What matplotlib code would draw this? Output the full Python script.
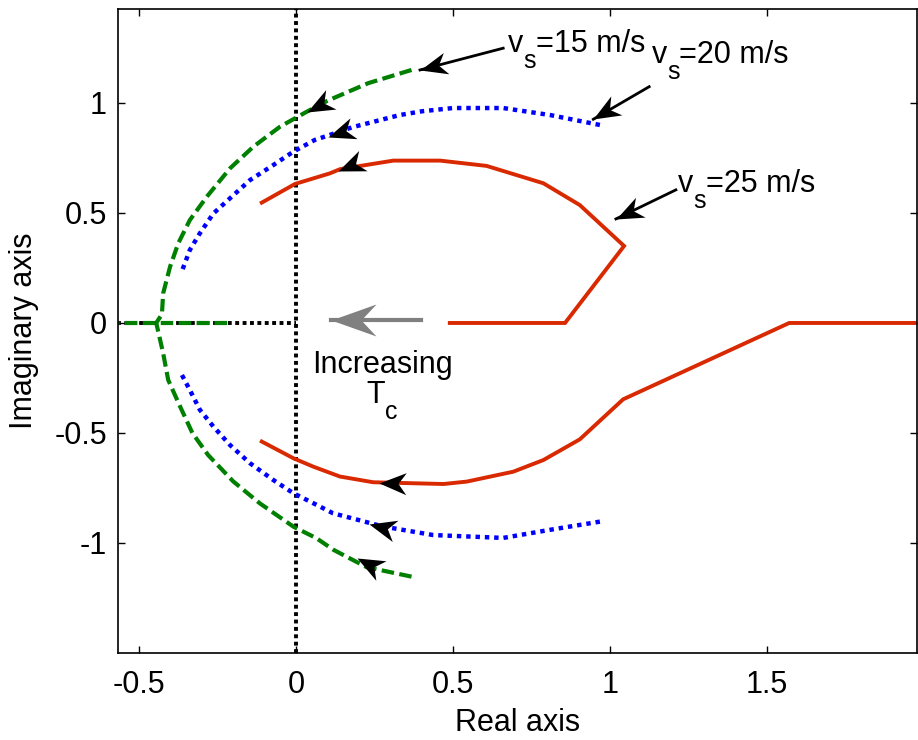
import numpy as np
import matplotlib
matplotlib.use('Agg')
import matplotlib.pyplot as plt
from matplotlib.path import Path
from matplotlib.markers import MarkerStyle
from matplotlib.transforms import Affine2D

plt.rcParams['font.family'] = ['Liberation Sans', 'DejaVu Sans']
plt.rcParams['axes.unicode_minus'] = False

# root loci, each ordered in the direction of increasing Tc
# vs = 15 m/s (green dashed)
g15_up_x = [0.368, 0.23, 0.10, 0.034, -0.051, -0.136, -0.21, -0.284, -0.338, -0.375, -0.401, -0.423, -0.427, -0.445]
g15_up_y = [1.15, 1.09, 1.01, 0.96, 0.892, 0.801, 0.703, 0.574, 0.468, 0.362, 0.256, 0.135, 0.04, 0.0]
g15_lo_x = [0.368, 0.225, 0.118, 0.066, -0.008, -0.115, -0.2, -0.28, -0.33, -0.369, -0.407, -0.423, -0.445]
g15_lo_y = [-1.153, -1.11, -1.03, -0.979, -0.926, -0.82, -0.72, -0.60, -0.50, -0.38, -0.259, -0.138, 0.0]
g15_re_x = [-0.22, -0.57]
g15_re_y = [0.0, 0.0]

# vs = 20 m/s (blue dotted)
b20_up_x = [0.968, 0.81, 0.66, 0.5, 0.40, 0.33, 0.18, 0.098, 0.06, -0.008, -0.072, -0.146, -0.21, -0.263, -0.306, -0.338, -0.364]
b20_up_y = [0.90, 0.945, 0.977, 0.977, 0.962, 0.945, 0.89, 0.85, 0.832, 0.779, 0.718, 0.65, 0.567, 0.498, 0.408, 0.332, 0.233]
b20_lo_x = [0.968, 0.81, 0.66, 0.437, 0.277, 0.118, 0.066, -0.008, -0.072, -0.146, -0.21, -0.263, -0.306, -0.338, -0.369]
b20_lo_y = [-0.903, -0.94, -0.977, -0.964, -0.925, -0.865, -0.827, -0.774, -0.714, -0.638, -0.555, -0.471, -0.395, -0.305, -0.221]

# vs = 25 m/s (red solid)
r25_up_x = [0.49, 0.857, 1.045, 0.904, 0.788, 0.607, 0.459, 0.31, 0.14, 0.108, -0.003, -0.109]
r25_up_y = [0.0, 0.0, 0.35, 0.536, 0.635, 0.714, 0.738, 0.738, 0.699, 0.68, 0.632, 0.547]
r25_lo_x = [2.0, 1.571, 1.042, 0.904, 0.788, 0.692, 0.544, 0.47, 0.246, 0.14, 0.055, -0.008, -0.109]
r25_lo_y = [0.0, 0.0, -0.347, -0.529, -0.623, -0.676, -0.721, -0.732, -0.724, -0.698, -0.653, -0.615, -0.539]

# where the direction arrowheads sit on the loci
arrow_tips = [(0.034, 0.96), (0.103, 0.847), (0.135, 0.69),
              (0.265, -0.726), (0.234, -0.914), (0.193, -1.07)]

label_sub = ['15', '20', '25']
label_pos = [(0.675, 1.233), (1.133, 1.18), (1.218, 0.597)]
label_tail = [(0.66, 1.249), (1.125, 1.074), (1.21, 0.605)]
label_tip = [(0.395, 1.15), (0.947, 0.926), (1.019, 0.473)]

xticks = [-0.5, 0, 0.5, 1, 1.5]
xticklabels = ['-0.5', '0', '0.5', '1', '1.5']
yticks = [-1, -0.5, 0, 0.5, 1]
yticklabels = ['-1', '-0.5', '0', '0.5', '1']

RED = '#d92900'
GREEN = '#008000'
BLUE = '#0000ff'
FS = 22
FS_SUB = 18
SUB_DROP = -11.5  # points

fig = plt.figure(figsize=(9.18, 7.4), dpi=100)
ax = fig.add_axes([0.1285, 0.1176, 0.8704, 0.8696])
ax.set_xlim(-0.567, 1.978)
ax.set_ylim(-1.5, 1.425)

# reference lines
ax.axvline(0, color='k', lw=2.8, linestyle=(0, (1, 0.9)), zorder=1)
ax.plot([-0.57, 0], [0, 0], color='k', lw=2.8, linestyle=(0, (1, 0.9)), zorder=1)

dash = (0, (3.0, 1.3))
dot = (0, (1, 1.1))
ax.plot(g15_up_x, g15_up_y, color=GREEN, lw=3.0, linestyle=dash, zorder=2)
ax.plot(g15_lo_x, g15_lo_y, color=GREEN, lw=3.0, linestyle=dash, zorder=2)
ax.plot(g15_re_x, g15_re_y, color=GREEN, lw=3.0, linestyle=dash, zorder=2)
ax.plot(b20_up_x, b20_up_y, color=BLUE, lw=3.2, linestyle=dot, zorder=2)
ax.plot(b20_lo_x, b20_lo_y, color=BLUE, lw=3.2, linestyle=dot, zorder=2)
ax.plot(r25_up_x, r25_up_y, color=RED, lw=2.8, zorder=2, solid_joinstyle='miter')
ax.plot(r25_lo_x, r25_lo_y, color=RED, lw=2.8, zorder=2, solid_joinstyle='miter')

# notched arrowhead (tip at origin, pointing +x), units in pixels
head_small = Path([(0, 0), (-27, 11), (-19, 0), (-27, -11), (0, 0)],
                  [Path.MOVETO, Path.LINETO, Path.LINETO, Path.LINETO, Path.CLOSEPOLY])
head_big = Path([(0, 0), (-45, 16), (-30, 0), (-45, -16), (0, 0)],
                [Path.MOVETO, Path.LINETO, Path.LINETO, Path.LINETO, Path.CLOSEPOLY])


def draw_head(x, y, ang, path, size, color='k'):
    m = MarkerStyle(path, transform=Affine2D().rotate_deg(ang))
    ax.plot([x], [y], marker=m, markersize=size, color=color,
            markeredgewidth=0, linestyle='none', zorder=5)


def curve_angle(xs, ys, x, y):
    pts = ax.transData.transform(np.column_stack([xs, ys]))
    p = ax.transData.transform((x, y))
    best, bi = 1e9, 0
    for i in range(len(pts) - 1):
        a, b = pts[i], pts[i + 1]
        ab = b - a
        t = np.clip(np.dot(p - a, ab) / np.dot(ab, ab), 0, 1)
        d = np.hypot(*(a + t * ab - p))
        if d < best:
            best, bi = d, i
    d = pts[bi + 1] - pts[bi]
    return np.degrees(np.arctan2(d[1], d[0]))


curves = [(g15_up_x, g15_up_y), (b20_up_x, b20_up_y), (r25_up_x, r25_up_y),
          (r25_lo_x, r25_lo_y), (b20_lo_x, b20_lo_y), (g15_lo_x, g15_lo_y)]
for (cx, cy), (tx, ty) in zip(curves, arrow_tips):
    draw_head(tx, ty, curve_angle(cx, cy, tx, ty), head_small, 38.9)

renderer = fig.canvas.get_renderer()
PX2PT = 72.0 / fig.dpi


def text_width(s, size):
    t = ax.text(0, 0, s, fontsize=size)
    w = t.get_window_extent(renderer).width * PX2PT
    t.remove()
    return w


def sub_label(x, y, main, sub, rest='', center=False):
    w_main = text_width(main, FS)
    w_sub = text_width(sub, FS_SUB)
    w_rest = text_width(rest, FS) if rest else 0
    x0 = -(w_main + w_sub + w_rest) / 2 if center else 0
    kw = dict(xy=(x, y), xycoords='data', textcoords='offset points',
              ha='left', va='baseline', zorder=6)
    ax.annotate(main, xytext=(x0, 0), fontsize=FS, **kw)
    ax.annotate(sub, xytext=(x0 + w_main, SUB_DROP), fontsize=FS_SUB, **kw)
    if rest:
        ax.annotate(rest, xytext=(x0 + w_main + w_sub, 0), fontsize=FS, **kw)


# labelled arrows
for num, pos, tail, tip in zip(label_sub, label_pos, label_tail, label_tip):
    ax.plot([tail[0], tip[0]], [tail[1], tip[1]], color='k', lw=2.0, zorder=4)
    a = ax.transData.transform(tail)
    b = ax.transData.transform(tip)
    ang = np.degrees(np.arctan2(b[1] - a[1], b[0] - a[0]))
    draw_head(tip[0], tip[1], ang, head_small, 38.9)
    sub_label(pos[0], pos[1], 'v', 's', '=' + num + ' m/s')

# increasing Tc arrow
gray_tail = (0.398, 0.012)
gray_tip = (0.11, 0.012)
ax.plot([gray_tail[0], gray_tip[0]], [gray_tail[1], gray_tip[1]], color='#808080', lw=3.0, zorder=4)
draw_head(gray_tip[0], gray_tip[1], 180, head_big, 64.8, color='#808080')
ax.text(0.275, -0.227, 'Increasing', fontsize=FS, ha='center', va='baseline')
sub_label(0.275, -0.364, 'T', 'c', center=True)

ax.set_xticks(xticks)
ax.set_xticklabels(xticklabels)
ax.set_yticks(yticks)
ax.set_yticklabels(yticklabels)
ax.tick_params(direction='in', length=5, width=1, top=True, right=True, labelsize=FS)
ax.tick_params(axis='x', pad=12)
ax.tick_params(axis='y', pad=8)
for s in ax.spines.values():
    s.set_linewidth(1.2)
ax.set_xlabel('Real axis', fontsize=FS, labelpad=6)
ax.set_ylabel('Imaginary axis', fontsize=FS, labelpad=11)

fig.savefig('out.png', dpi=100)
